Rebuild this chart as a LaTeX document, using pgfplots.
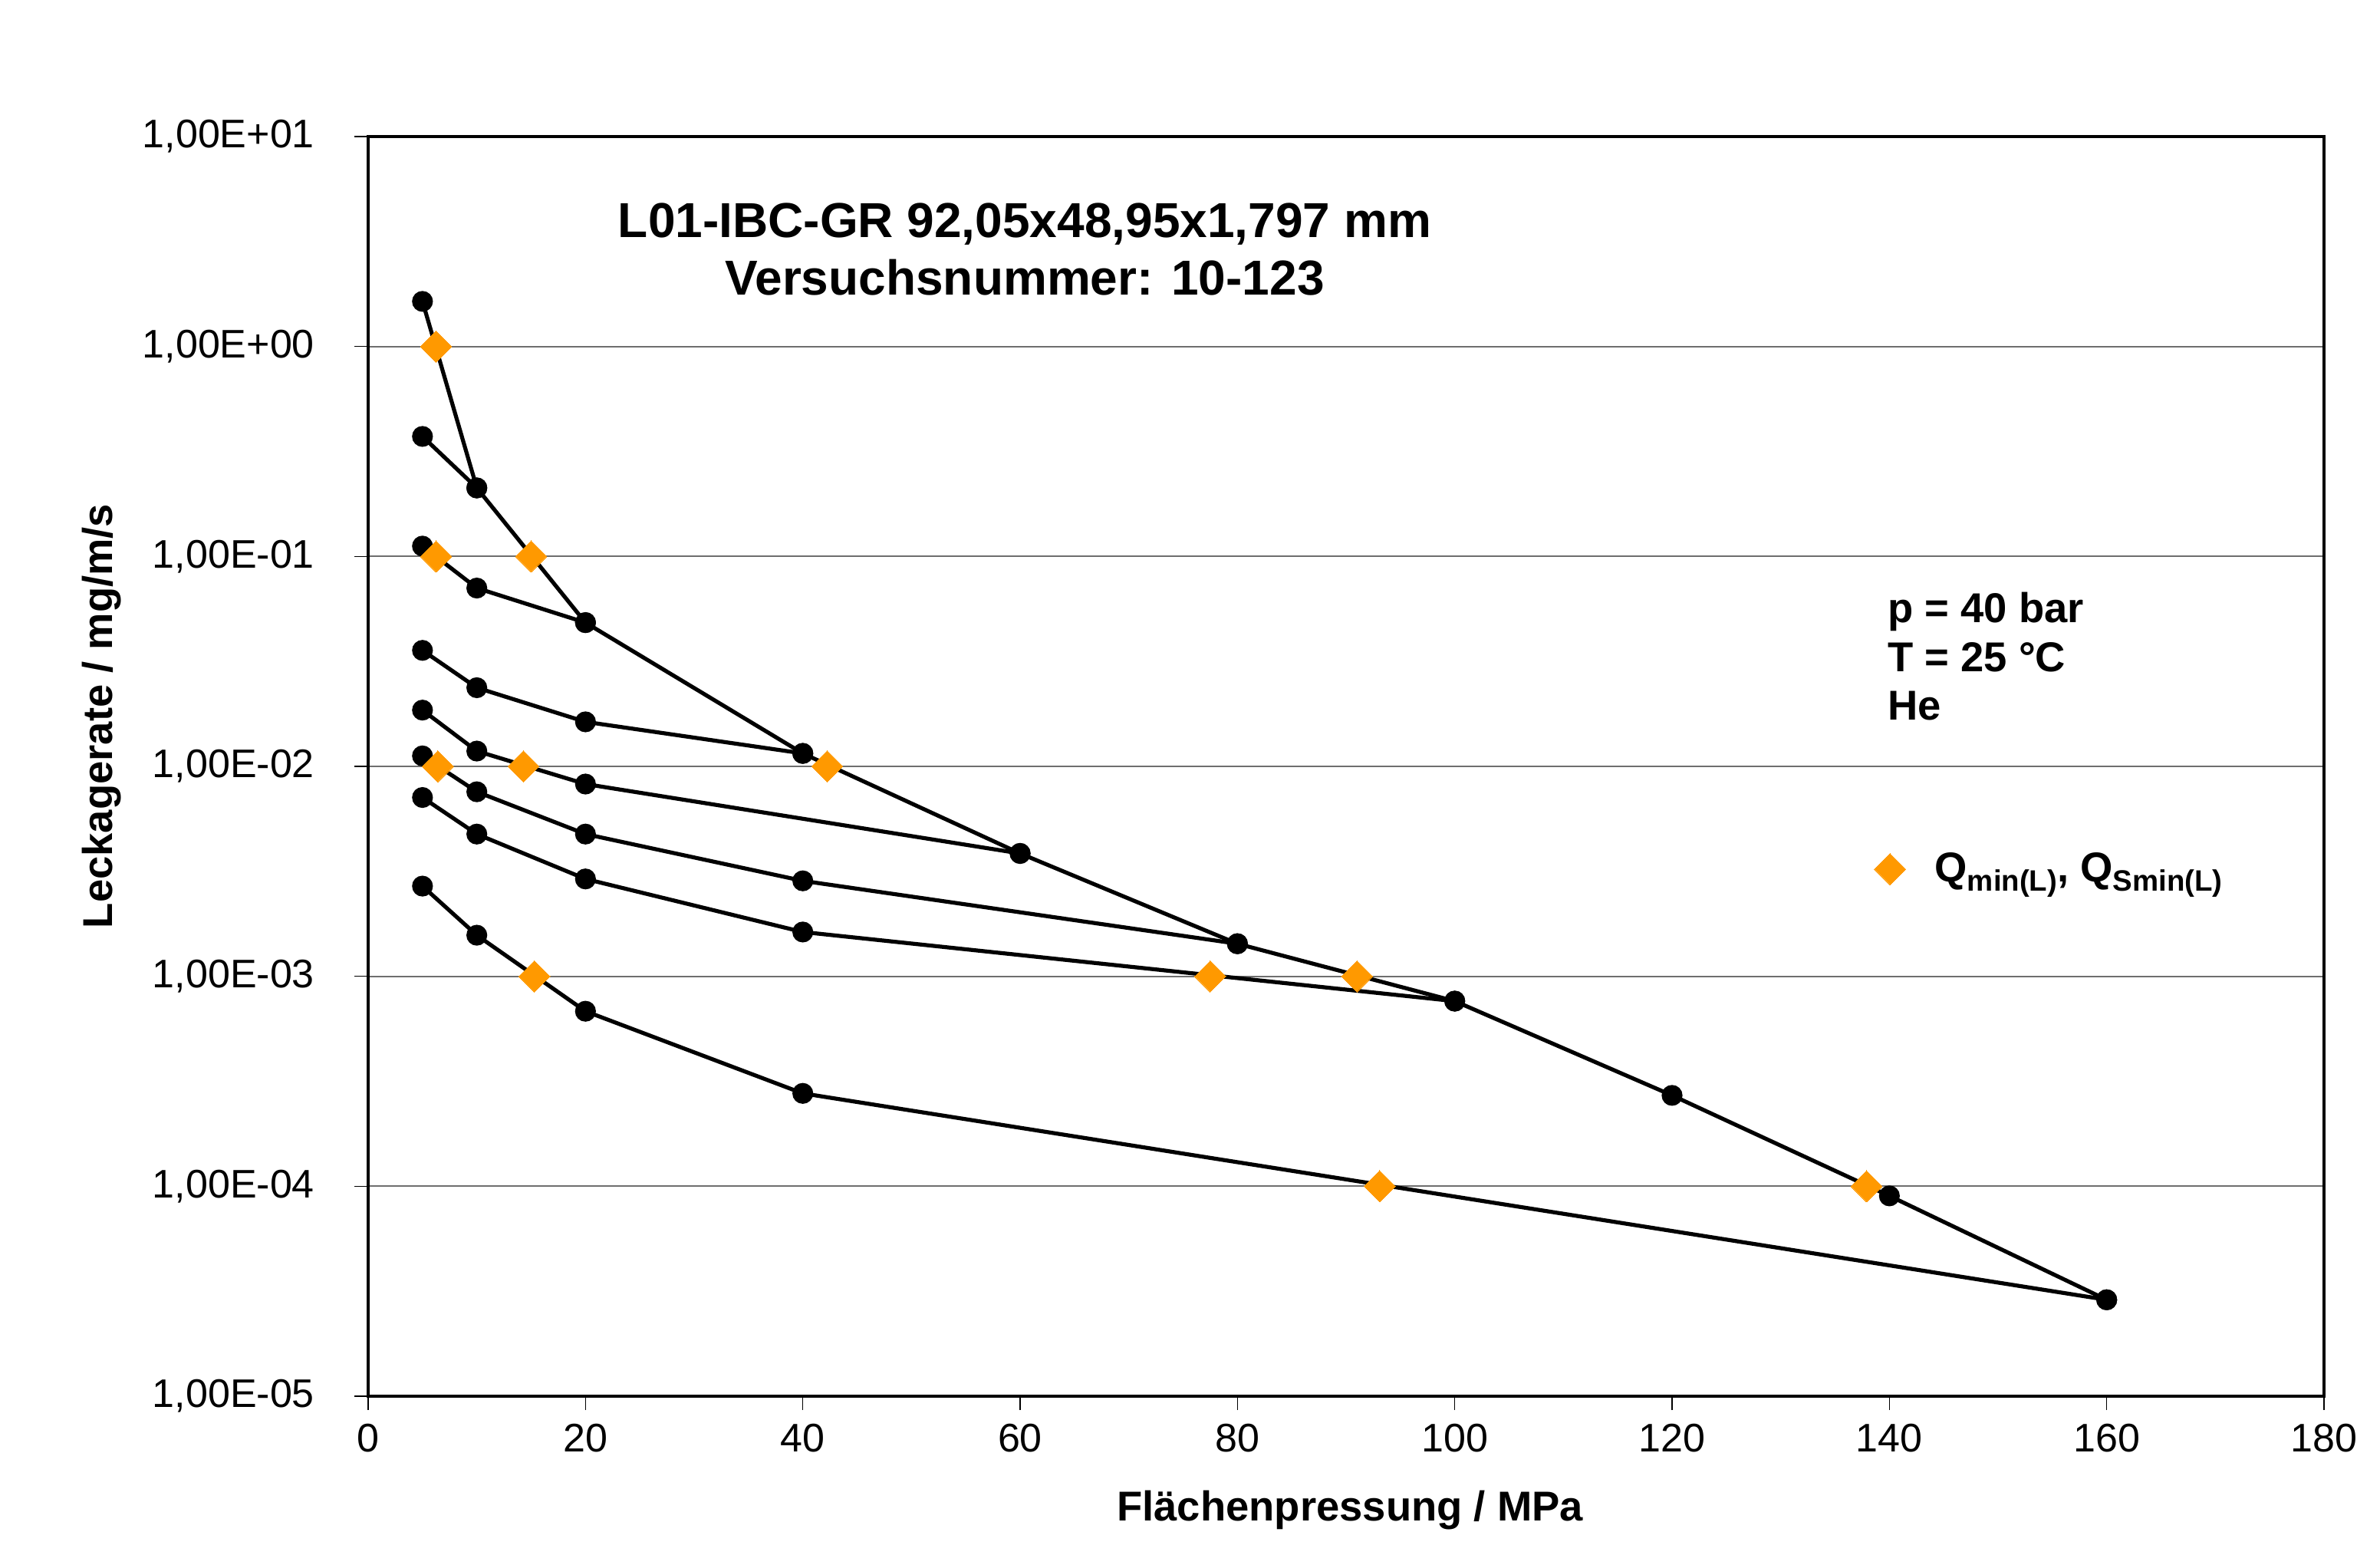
\documentclass[border=0pt]{standalone}
\usepackage{fontspec}
\setmainfont{Liberation Sans}
\usepackage{pgfplots}
\pgfplotsset{compat=1.18}
\definecolor{qorange}{HTML}{FF9900}
\definecolor{gridgray}{HTML}{6E6E6E}
\begin{document}
\begin{tikzpicture}
\useasboundingbox (-120pt,-51.5pt) rectangle (655.75pt,455pt);
\begin{axis}[
  at={(0,0)}, anchor=south west, scale only axis,
  width=637.5pt, height=410.5pt,
  xmin=0, xmax=180, ymode=log, ymin=1e-5, ymax=10,
  xtick={0,20,40,60,80,100,120,140,160,180},
  ytick={1e-5,1e-4,1e-3,1e-2,1e-1,1,10},
  yticklabels={{1,00E-05},{1,00E-04},{1,00E-03},{1,00E-02},{1,00E-01},{1,00E+00},{1,00E+01}},
  yminorticks=false,
  ymajorgrids, grid style={gridgray, line width=0.45pt},
  axis line style={line width=1.2pt},
  tick style={black, line width=0.4pt},
  tick align=outside, major tick length=4.5pt,
  xtick pos=bottom, ytick pos=left,
  ticklabel style={font=\fontsize{13}{15}\selectfont},
  yticklabel style={xshift=-9.5pt},
  xticklabel style={yshift=-1pt},
  /pgf/number format/assume math mode=true,
  xlabel={Flächenpressung / MPa},
  ylabel={Leckagerate / mg/m/s},
  xlabel style={at={(axis description cs:0.502,-0.0987)}, anchor=base, inner sep=0pt, font=\bfseries\fontsize{13.6}{16}\selectfont},
  ylabel style={at={(axis description cs:-0.1307,0.540)}, anchor=base, inner sep=0pt, font=\bfseries\fontsize{13.6}{16}\selectfont},
  legend style={draw=none, fill=none, inner sep=0pt, at={(axis description cs:0.7698,0.4184)}, anchor=west, font=\bfseries\fontsize{13.6}{16}\selectfont, /tikz/every odd column/.append style={column sep=7.5pt}},
  legend cell align=left,
  every axis plot/.append style={line width=1.3pt},
]
% loading curve
\addplot[black, mark=*, mark size=3.2pt, mark options={line width=0.4pt}, forget plot] coordinates {
 (5,1.64) (10,0.212) (20,0.0484) (40,0.01153) (60,0.00385) (80,0.00143) (100,0.000762) (120,0.000271) (140,9.0e-5) (160,2.88e-5)};
% unloading branches
\addplot[black, mark=*, mark size=3.2pt, mark options={line width=0.4pt}, forget plot] coordinates {
 (10,0.212) (5,0.373)};
\addplot[black, mark=*, mark size=3.2pt, mark options={line width=0.4pt}, forget plot] coordinates {
 (20,0.0484) (10,0.0707) (5,0.112)};
\addplot[black, mark=*, mark size=3.2pt, mark options={line width=0.4pt}, forget plot] coordinates {
 (40,0.01153) (20,0.0163) (10,0.0237) (5,0.0357)};
\addplot[black, mark=*, mark size=3.2pt, mark options={line width=0.4pt}, forget plot] coordinates {
 (60,0.00385) (20,0.00824) (10,0.01183) (5,0.01854)};
\addplot[black, mark=*, mark size=3.2pt, mark options={line width=0.4pt}, forget plot] coordinates {
 (80,0.00143) (40,0.00285) (20,0.00476) (10,0.00757) (5,0.01122)};
\addplot[black, mark=*, mark size=3.2pt, mark options={line width=0.4pt}, forget plot] coordinates {
 (100,0.000762) (40,0.001626) (20,0.00291) (10,0.00476) (5,0.00711)};
\addplot[black, mark=*, mark size=3.2pt, mark options={line width=0.4pt}, forget plot] coordinates {
 (160,2.88e-5) (40,0.000277) (20,0.000682) (10,0.00157) (5,0.00269)};
% Qmin(L), QSmin(L)
\addplot[only marks, mark=square*, mark size=3.6pt, mark options={rotate=45, fill=qorange, draw=qorange, line width=0pt}] coordinates {
 (6.25,1) (6.25,0.1) (15.0,0.1) (6.4,0.01) (14.3,0.01) (42.25,0.01) (15.3,0.001) (77.5,0.001) (91.0,0.001) (93.1,1e-4) (137.9,1e-4)};
\addlegendentry{Q\raisebox{-3pt}{\fontsize{9.6}{11}\selectfont min(L)}, Q\raisebox{-3pt}{\fontsize{9.6}{11}\selectfont Smin(L)}}
% texts
\node[anchor=base, inner sep=0pt, font=\bfseries\fontsize{16}{19}\selectfont] at (axis description cs:0.3357,0.920) {L01-IBC-GR 92,05x48,95x1,797 mm};
\node[anchor=base, inner sep=0pt, font=\bfseries\fontsize{16}{19}\selectfont] at (axis description cs:0.3357,0.8745) {Versuchsnummer: 10-123};
\node[anchor=base west, inner sep=0pt, font=\bfseries\fontsize{13.6}{16}\selectfont] at (axis description cs:0.7767,0.6139) {p = 40 bar};
\node[anchor=base west, inner sep=0pt, font=\bfseries\fontsize{13.6}{16}\selectfont] at (axis description cs:0.7767,0.5755) {T = 25 °C};
\node[anchor=base west, inner sep=0pt, font=\bfseries\fontsize{13.6}{16}\selectfont] at (axis description cs:0.7767,0.5371) {He};
\end{axis}
\end{tikzpicture}
\end{document}
